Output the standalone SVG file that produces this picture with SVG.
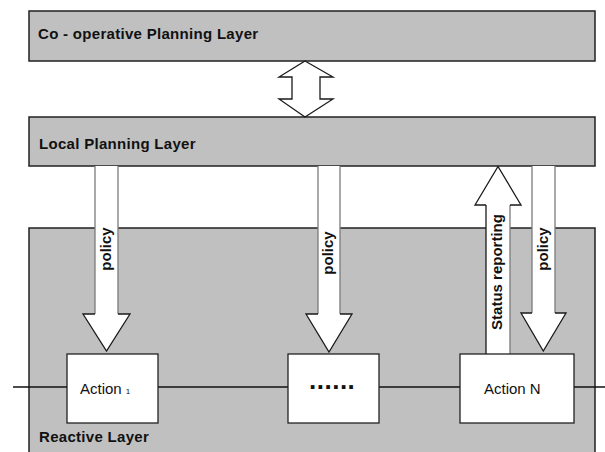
<svg xmlns="http://www.w3.org/2000/svg" width="605" height="452" viewBox="0 0 605 452">
<style>
.layer{fill:#c0c0c0;stroke:#222;stroke-width:1.5}
.act{fill:#fff;stroke:#222;stroke-width:1.3}
.t{font-family:"Liberation Sans",Arial,sans-serif;font-size:15px;fill:#111}
.b{font-weight:bold}
.ls{letter-spacing:0.3px}
.dots{font-size:26px;letter-spacing:0.5px}
.afill{fill:#fff;stroke:none}
.head{fill:none;stroke:#1a1a1a;stroke-width:1.3;stroke-linejoin:miter}
.shaft{stroke:#7a7a7a;stroke-width:1.3;fill:none}
.bus{stroke:#111;stroke-width:1.5}
</style>
<rect width="605" height="452" fill="#fff"/>
<g id="coop-layer">
<rect class="layer" x="29" y="11" width="566" height="50"/>
<text class="t b ls" x="38" y="39">Co - operative Planning Layer</text>
</g>
<g id="local-layer">
<rect class="layer" x="29" y="117" width="566" height="49"/>
<text class="t b ls" x="39" y="149">Local Planning Layer</text>
</g>
<g id="reactive-layer">
<rect class="layer" x="29" y="228" width="566" height="240"/>
<text class="t b ls" x="39" y="442">Reactive Layer</text>
</g>
<g id="connectors">
<line class="bus" x1="13" y1="387" x2="605" y2="387"/>
<g id="double-arrow">
<polygon class="afill" points="305,61 333,77 320,77 320,99 333,99 305,117 279,99 292,99 292,77 279,77"/>
<polygon class="head" points="305,61 333,77 320,77 320,99 333,99 305,117 279,99 292,99 292,77 279,77"/>
</g>
<g id="policy-1">
<polygon class="afill" points="95,166 118,166 118,314 130,314 106.5,351 83,314 95,314"/>
<line class="shaft" x1="95" y1="166" x2="95" y2="314"/>
<line class="shaft" x1="118" y1="166" x2="118" y2="314"/>
<polyline class="head" points="95,314 83,314 106.5,351 130,314 118,314"/>
<text class="t b" text-anchor="middle" transform="translate(110.5,249) rotate(-90)">policy</text>
</g>
<g id="policy-2">
<polygon class="afill" points="318,166 340,166 340,314 352,314 329,352 306,314 318,314"/>
<line class="shaft" x1="318" y1="166" x2="318" y2="314"/>
<line class="shaft" x1="340" y1="166" x2="340" y2="314"/>
<polyline class="head" points="318,314 306,314 329,352 352,314 340,314"/>
<text class="t b" text-anchor="middle" transform="translate(333,253) rotate(-90)">policy</text>
</g>
<g id="status">
<polygon class="afill" points="486,354 510,354 510,205 521,205 498,166.5 475,205 486,205"/>
<line x1="486" y1="205" x2="486" y2="354" stroke="#1a1a1a" stroke-width="1.3"/>
<line class="shaft" x1="510" y1="205" x2="510" y2="354"/>
<polyline class="head" points="486,205 475,205 498,166.5 521,205 510,205"/>
<text class="t b" text-anchor="middle" transform="translate(501.5,272) rotate(-90)">Status reporting</text>
</g>
<g id="policy-n">
<polygon class="afill" points="532,166 555,166 555,313 566,313 543.3,351 521,313 532,313"/>
<line class="shaft" x1="532" y1="166" x2="532" y2="313"/>
<line class="shaft" x1="555" y1="166" x2="555" y2="313"/>
<polyline class="head" points="532,313 521,313 543.3,351 566,313 555,313"/>
<text class="t b" text-anchor="middle" transform="translate(547.5,249) rotate(-90)">policy</text>
</g>
</g>
<g id="action-1">
<rect class="act" x="67" y="354" width="91" height="69"/>
<text class="t" x="80" y="394">Action <tspan font-size="8">1</tspan></text>
</g>
<g id="action-dots">
<rect class="act" x="288" y="354" width="91" height="69"/>
<text class="t b dots" x="309" y="389">......</text>
</g>
<g id="action-n">
<rect class="act" x="460" y="354" width="114" height="69"/>
<text class="t" x="484" y="394">Action N</text>
</g>
</svg>
